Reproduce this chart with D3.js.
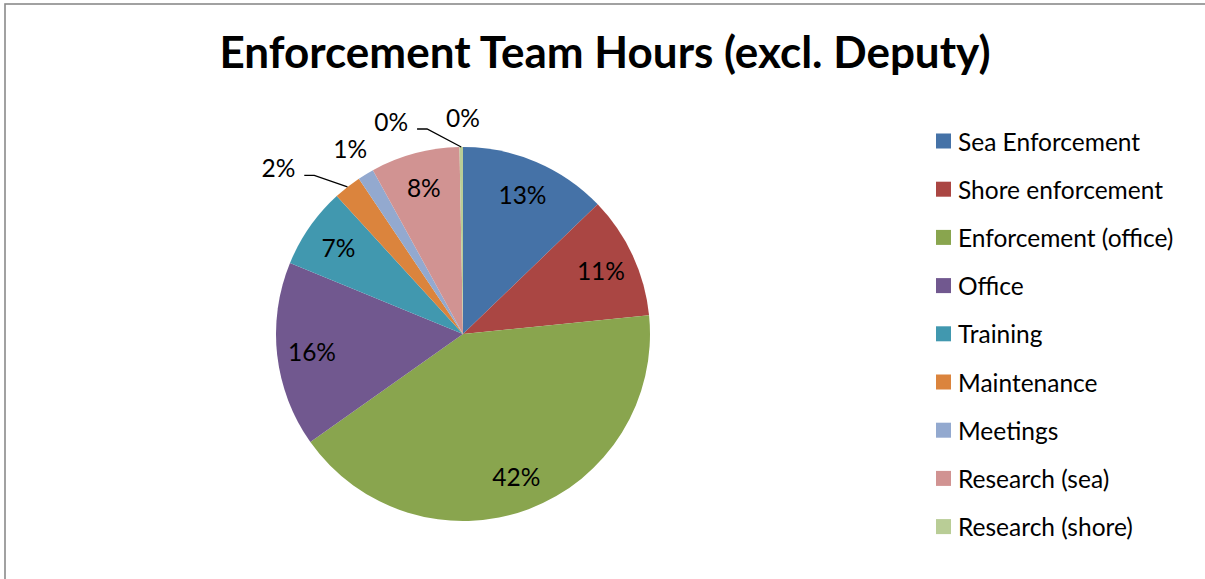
<!DOCTYPE html>
<html>
<head>
<meta charset="utf-8">
<title>Enforcement Team Hours (excl. Deputy)</title>
<script src="https://cdn.jsdelivr.net/npm/d3@7"></script>
<style>
body { margin:0; background:#fff; }
svg text { font-family: Lato, "Open Sans", sans-serif; fill:#000; }
</style>
</head>
<body>
<script>
// share of hours per activity, in percent
var categories = ["Sea Enforcement", "Shore enforcement", "Enforcement (office)", "Office", "Training",
                  "Maintenance", "Meetings", "Research (sea)", "Research (shore)", "Other"];
var shares = [12.8, 10.6, 41.8, 16.0, 7.0, 2.4, 1.4, 7.7, 0.3, 0];
var colors = ["#4572A7", "#AA4643", "#89A54E", "#71588F", "#4198AF",
              "#DB843D", "#93A9CF", "#D19392", "#B9CD96", "#A99BBD"];
var legendCount = 9; // the legend box only has room for nine entries

var width = 1205, height = 579;
var cx = 463, cy = 334, r = 187;

var svg = d3.select("body").append("svg").attr("width", width).attr("height", height);

// chart frame (only top/left edges are inside the picture)
svg.append("rect").attr("x", 5).attr("y", 4).attr("width", width + 20).attr("height", height + 20)
	.attr("fill", "none").attr("stroke", "#8a8a8a").attr("stroke-width", 1.6);

svg.append("text").attr("x", 605).attr("y", 68).attr("text-anchor", "middle")
	.style("font-size", "44px").style("font-weight", "bold")
	.text("Enforcement Team Hours (excl. Deputy)");

var total = d3.sum(shares);
var color = d3.scaleOrdinal().domain(categories).range(colors);
var pie = d3.pie().sort(null).value(function(d){ return d.v; });
var arcs = pie(categories.map(function(c, i){ return {name:c, v:shares[i]}; }));
var arc = d3.arc().innerRadius(0).outerRadius(r);
var inner = d3.arc().innerRadius(152).outerRadius(152);
var outer = d3.arc().innerRadius(r + 30).outerRadius(r + 30);
var edge = d3.arc().innerRadius(r).outerRadius(r);

var g = svg.append("g").attr("transform", "translate(" + cx + "," + cy + ")");
g.selectAll("path").data(arcs).enter().append("path")
	.attr("d", arc)
	.attr("fill", function(d){ return color(d.data.name); });

function pct(d){ return Math.round(d.data.v / total * 100) + "%"; }

// labels: big slices inside, small ones outside
var labels = g.selectAll(".lbl").data(arcs).enter().append("text")
	.attr("class", "lbl")
	.attr("text-anchor", "middle")
	.attr("dominant-baseline", "central")
	.style("font-size", "24.5px")
	.text(pct)
	.each(function(d){
		d.out = d.data.v / total < 0.03;
		var p = (d.out ? outer : inner).centroid(d);
		d.lx = p[0]; d.ly = p[1];
		d.w = this.getComputedTextLength();
	});

// push overlapping outside labels to the left, like excel does
var outs = arcs.filter(function(d){ return d.out; });
for (var i = 0; i < outs.length - 1; i++) {
	var a = outs[i], b = outs[i + 1];
	if (Math.abs(a.lx - b.lx) < (a.w + b.w) / 2 && Math.abs(a.ly - b.ly) < 20) {
		a.lx = b.lx - b.w / 2 - 38 - a.w / 2;
		a.ly += 4;
		a.moved = true;
	}
}
labels.attr("x", function(d){ return d.lx; }).attr("y", function(d){ return d.ly; });

g.selectAll(".leader").data(outs.filter(function(d){ return d.moved; })).enter().append("polyline")
	.attr("class", "leader")
	.attr("fill", "none").attr("stroke", "#000").attr("stroke-width", 1.3)
	.attr("points", function(d){
		var x0 = d.lx + d.w / 2 + 9, y0 = d.ly + 8;
		var e = edge.centroid(d);
		return [[x0, y0], [x0 + 10, y0], e].join(" ");
	});

// legend
var leg = svg.selectAll(".leg").data(categories.slice(0, legendCount)).enter().append("g")
	.attr("class", "leg")
	.attr("transform", function(d, i){ return "translate(936," + (141 + i * 48.2) + ")"; });
leg.append("rect").attr("x", 0).attr("y", -7.5).attr("width", 15).attr("height", 15)
	.attr("fill", function(d){ return color(d); });
leg.append("text").attr("x", 22).attr("dominant-baseline", "central")
	.style("font-size", "24.5px").text(function(d){ return d; });
</script>
</body>
</html>
